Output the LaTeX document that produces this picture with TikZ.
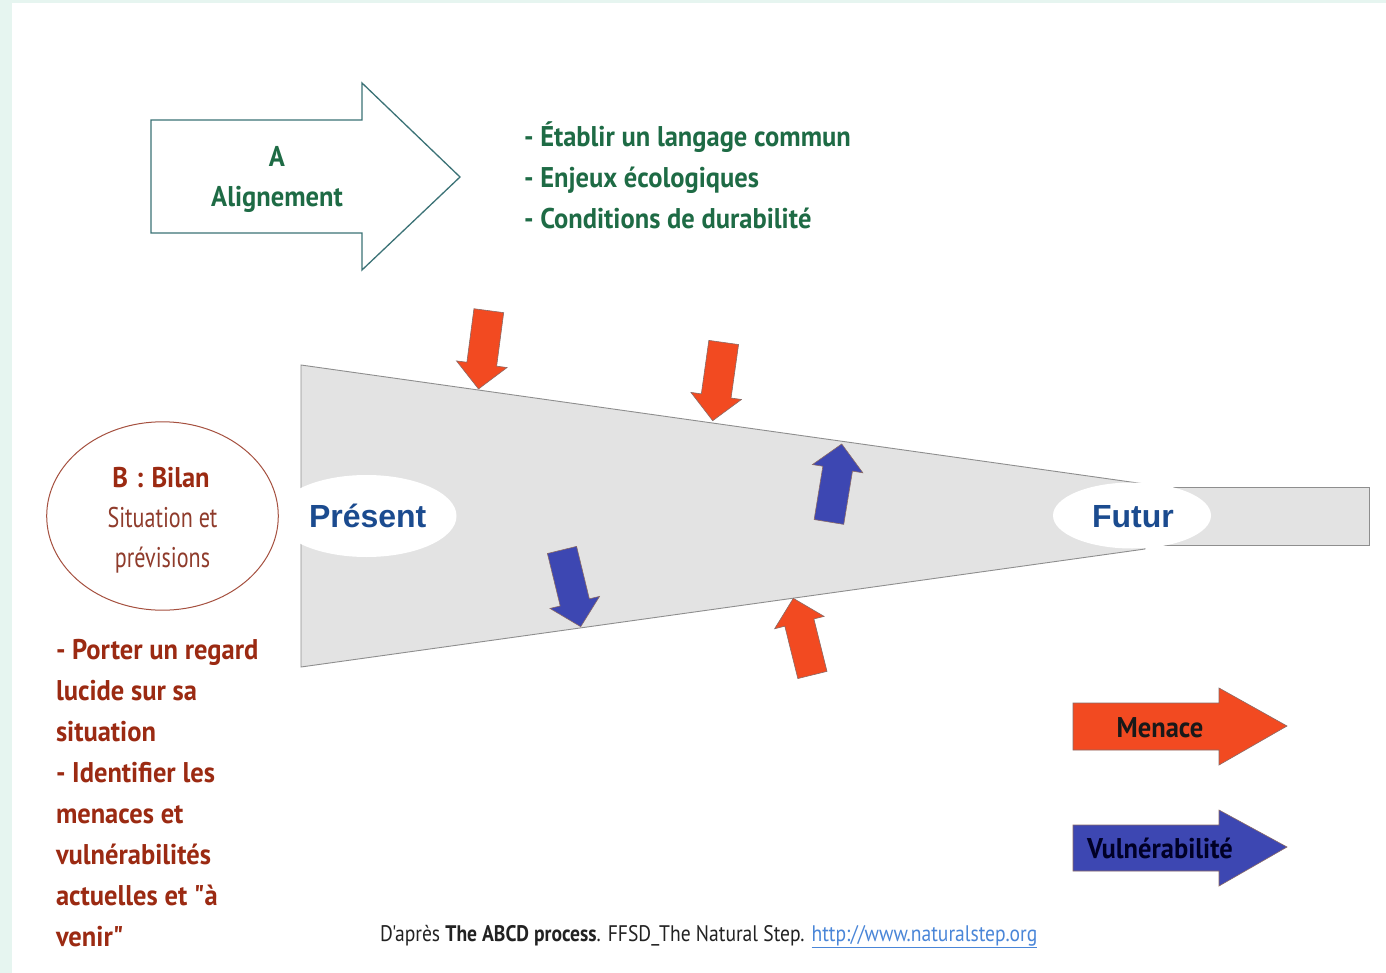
\documentclass[tikz,border=0pt]{standalone}
\usepackage{fontspec}
\newfontfamily\nar[FakeStretch=0.93]{PT Sans}
\newfontfamily\narreg[FakeStretch=0.775]{PT Sans}
\newfontfamily\narfoot[FakeStretch=0.87]{PT Sans}
\newfontfamily\ari{Liberation Sans}
\definecolor{mint}{HTML}{E6F5F0}
\definecolor{agreen}{HTML}{1E6B45}
\definecolor{ateal}{HTML}{3B7276}
\definecolor{bred}{HTML}{9B2A12}
\definecolor{bregular}{HTML}{8F3B2B}
\definecolor{bstroke}{HTML}{A5503F}
\definecolor{funfill}{HTML}{E3E3E3}
\definecolor{funline}{HTML}{8E8E8E}
\definecolor{pblue}{HTML}{1B4B8F}
\definecolor{mred}{HTML}{F24A21}
\definecolor{vblue}{HTML}{3D47B2}
\definecolor{edgegray}{HTML}{8A6A66}
\definecolor{foot}{HTML}{222222}
\definecolor{link}{HTML}{4A86D8}
\newcommand\blockarrow[4]{%
  \begin{scope}[shift={(#1,#2)},rotate=#3]
    \fill[#4,draw=edgegray,line width=0.6pt] (0,0) -- (-25,25.5) -- (-25,15) -- (-79,15) -- (-79,-15) -- (-25,-15) -- (-25,-25.5) -- cycle;
  \end{scope}}
\begin{document}
\begin{tikzpicture}[x=1pt,y=-1pt,
  every node/.style={inner sep=0pt,outer sep=0pt},
  bigtxt/.style={font=\nar\bfseries\fontsize{28.5}{40}\selectfont},
  regtxt/.style={font=\narreg\fontsize{28.5}{40}\selectfont,text=bregular,anchor=base},
  greentxt/.style={bigtxt,text=agreen,anchor=base west},
  redtxt/.style={bigtxt,text=bred,anchor=base west},
  timetxt/.style={font=\ari\bfseries\fontsize{32}{36}\selectfont,text=pblue,anchor=base west}]
\useasboundingbox (0,0) rectangle (1386,973);
% background
\fill[mint] (0,0) rectangle (1386,973);
\fill[white] (12,3) rectangle (1386,973);
% A arrow
\draw[ateal,line width=1.3pt,fill=white] (151,120) -- (362,120) -- (362,83) -- (460,177) -- (362,270) -- (362,233) -- (151,233) -- cycle;
\node[bigtxt,text=agreen,anchor=base] (atitle) at (277,167) {A};
\node[bigtxt,text=agreen,anchor=base] (aname) at (277,207) {Alignement};
% A list
\node[greentxt] (a1) at (524,147) {- Établir un langage commun};
\node[greentxt] (a2) at (524,188) {- Enjeux écologiques};
\node[greentxt] (a3) at (524,229) {- Conditions de durabilité};
% funnel
\draw[funline,fill=funfill,line width=0.9pt] (301,365) -- (1145,484) -- (1145,549) -- (301,667) -- cycle;
\draw[funline,fill=funfill,line width=0.9pt] (1140,487) rectangle (1369,545);
% time ellipses
\fill[white] (366.5,516) ellipse [x radius=90,y radius=41];
\fill[white] (1132,515.5) ellipse [x radius=79,y radius=33];
\node[timetxt] (present) at (309,527) {Présent};
\node[timetxt] (futur) at (1092,527) {Futur};
% threat / vulnerability arrows
\blockarrow{478.5}{389}{-97.5}{mred}
\blockarrow{712.7}{420.7}{-98}{mred}
\blockarrow{580.7}{626.7}{-76.3}{vblue}
\blockarrow{841.7}{444}{80.7}{vblue}
\blockarrow{793.3}{598.3}{104}{mred}
% B ellipse
\draw[bstroke,line width=1pt] (162.5,516) ellipse [x radius=115.8,y radius=94.2];
\node[bigtxt,text=bred,anchor=base] (btitle) at (161,487) {B\hspace{1.5pt} :\hspace{1.5pt} Bilan};
\node[regtxt] (b2) at (162.5,527) {Situation et};
\node[regtxt] (b3) at (162.5,567) {prévisions};
% B list
\node[redtxt] (l1) at (56,659) {- Porter un regard};
\node[redtxt] (l2) at (56,700) {lucide sur sa};
\node[redtxt] (l3) at (56,741) {situation};
\node[redtxt] (l4) at (56,782) {- Identifier les};
\node[redtxt] (l5) at (56,823) {menaces et};
\node[redtxt] (l6) at (56,864) {vulnérabilités};
\node[redtxt] (l7) at (56,905) {actuelles et "à};
\node[redtxt] (l8) at (56,946) {venir"};
% legend
\fill[mred,draw=edgegray,line width=0.6pt] (1073,703) -- (1219,703) -- (1219,688) -- (1287,726) -- (1219,765) -- (1219,750) -- (1073,750) -- cycle;
\node[bigtxt,text=black!90,anchor=base] (menace) at (1160,737) {Menace};
\fill[vblue,draw=edgegray,line width=0.6pt] (1073,825) -- (1219,825) -- (1219,810) -- (1287,847) -- (1219,886) -- (1219,871) -- (1073,871) -- cycle;
\node[bigtxt,text=black!85!blue,anchor=base] (vuln) at (1160,858) {Vulnérabilité};
% footer
\node[font=\narfoot\fontsize{22.5}{26}\selectfont,text=foot,anchor=base west] (footer) at (380,941)
  {D'après \textbf{The ABCD process}. FFSD\_The Natural Step. \textcolor{link}{\underline{http://www.naturalstep.org}}};
\end{tikzpicture}
\end{document}
